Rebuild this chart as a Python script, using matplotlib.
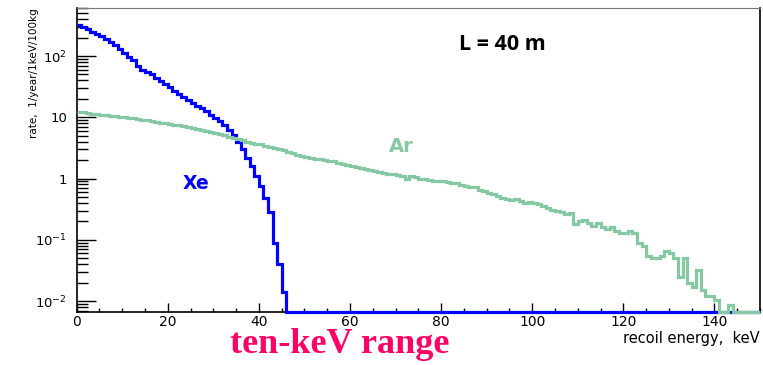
import numpy as np
import matplotlib.pyplot as plt
from matplotlib.ticker import FixedLocator, MultipleLocator, LogLocator, NullFormatter

# Data: recoil spectra, 1 keV bins from 0 to 150 keV
xe_nonzero = [320, 300, 275, 250, 230, 210, 190, 170, 150, 130,
              112, 98, 85, 70, 60, 55, 50, 44, 39, 35,
              31, 27, 24, 21.5, 19, 17, 15.5, 14, 12.5, 11,
              9.8, 8.6, 7.5, 6.3, 5.2, 4.0, 3.0, 2.2, 1.6, 1.1,
              0.75, 0.48, 0.28, 0.09, 0.04, 0.014]
xe = xe_nonzero + [0] * (150 - len(xe_nonzero))

ar = [12.2, 12.0, 11.7, 11.5, 11.3, 11.0, 10.9, 10.6, 10.4, 10.2,
      10.0, 9.8, 9.6, 9.4, 9.2, 9.0, 8.7, 8.5, 8.2, 8.0,
      7.8, 7.6, 7.4, 7.2, 7.0, 6.8, 6.5, 6.2, 6.0, 5.8,
      5.6, 5.3, 5.1, 4.8, 4.6, 4.4, 4.3, 4.0, 3.8, 3.7,
      3.6, 3.4, 3.3, 3.1, 3.0, 2.9, 2.7, 2.6, 2.45, 2.35,
      2.25, 2.2, 2.1, 2.05, 2.0, 1.95, 1.9, 1.8, 1.7, 1.65,
      1.6, 1.55, 1.5, 1.45, 1.4, 1.35, 1.3, 1.25, 1.2, 1.18,
      1.15, 1.12, 0.98, 1.12, 1.05, 1.0, 0.98, 0.95, 0.92, 0.91,
      0.9, 0.87, 0.84, 0.86, 0.78, 0.75, 0.72, 0.74, 0.66, 0.62,
      0.58, 0.55, 0.52, 0.49, 0.47, 0.45, 0.46, 0.43, 0.40, 0.41,
      0.40, 0.38, 0.35, 0.33, 0.31, 0.30, 0.28, 0.26, 0.27, 0.18,
      0.20, 0.21, 0.19, 0.17, 0.19, 0.16, 0.15, 0.16, 0.14, 0.13,
      0.13, 0.14, 0.13, 0.09, 0.08, 0.055, 0.05, 0.05, 0.055, 0.065,
      0.06, 0.05, 0.025, 0.05, 0.02, 0.017, 0.032, 0.015, 0.012, 0.012,
      0.0105, 0, 0, 0.0085, 0, 0, 0, 0, 0, 0]

edges = np.arange(0, 151)

ytick_vals = [0.01, 0.1, 1, 10, 100]
ytick_labels = ['10$^{-2}$', '10$^{-1}$', '1', '10', '10$^{2}$']
xtick_vals = [0, 20, 40, 60, 80, 100, 120, 140]

ymin, ymax = 0.0066, 608
blue = '#0000ff'
green = '#84c9a3'

fig = plt.figure(figsize=(7.63, 3.65), dpi=100)
ax = fig.add_axes([0.1005, 0.145, 0.8955, 0.833])
ax.set_yscale('log')

# empty bins drawn on the bottom edge like ROOT does
xe_plot = np.where(np.array(xe) > 0, xe, ymin)
ar_plot = np.where(np.array(ar) > 0, ar, ymin)
ax.stairs(xe_plot, edges, baseline=None, color=blue, lw=2.3, clip_on=False, zorder=3)
ax.stairs(ar_plot, edges, baseline=None, color=green, lw=2.3, clip_on=False, zorder=4)

ax.set_xlim(0, 150)
ax.set_ylim(ymin, ymax)

ax.xaxis.set_major_locator(FixedLocator(xtick_vals))
ax.set_xticklabels([str(v) for v in xtick_vals])
ax.xaxis.set_minor_locator(MultipleLocator(5))
ax.yaxis.set_major_locator(FixedLocator(ytick_vals))
ax.set_yticklabels(ytick_labels)
ax.yaxis.set_minor_locator(LogLocator(base=10, subs=np.arange(2, 10)))
ax.yaxis.set_minor_formatter(NullFormatter())

ax.tick_params(axis='x', which='major', direction='in', length=6.5, width=1, labelsize=10, pad=2)
ax.tick_params(axis='x', which='minor', direction='in', length=3, width=1)
ax.tick_params(axis='y', which='major', direction='in', length=14, width=1, labelsize=9.5, pad=7)
ax.tick_params(axis='y', which='minor', direction='in', length=8, width=1)

for s in ax.spines.values():
    s.set_linewidth(1.2)
    s.set_color('black')
ax.spines['top'].set_color('#777777')
ax.spines['top'].set_linewidth(0.8)

ax.set_ylabel('rate,  1/year/1keV/100kg', fontsize=7.5, loc='top', labelpad=-3)

fig.text(760 / 763, 1 - 339 / 365, 'recoil energy,  keV', ha='right', va='center', fontsize=10.5)
fig.text(340 / 763, 1 - 353 / 365, 'ten-keV range', ha='center', va='baseline',
         fontsize=26, fontweight='bold', family='Liberation Serif', color='#ff0066')

ax.text(196 / 763, 1 - 183 / 365, 'Xe', transform=fig.transFigure, ha='center', va='center',
        fontsize=13.5, fontweight='bold', color=blue)
ax.text(401 / 763, 1 - 146 / 365, 'Ar', transform=fig.transFigure, ha='center', va='center',
        fontsize=14, fontweight='bold', color=green)
ax.text(502 / 763, 1 - 44 / 365, 'L = 40 m', transform=fig.transFigure, ha='center', va='center',
        fontsize=15.5, fontweight='bold', family='Open Sans')

fig.savefig('out.png', dpi=100)
